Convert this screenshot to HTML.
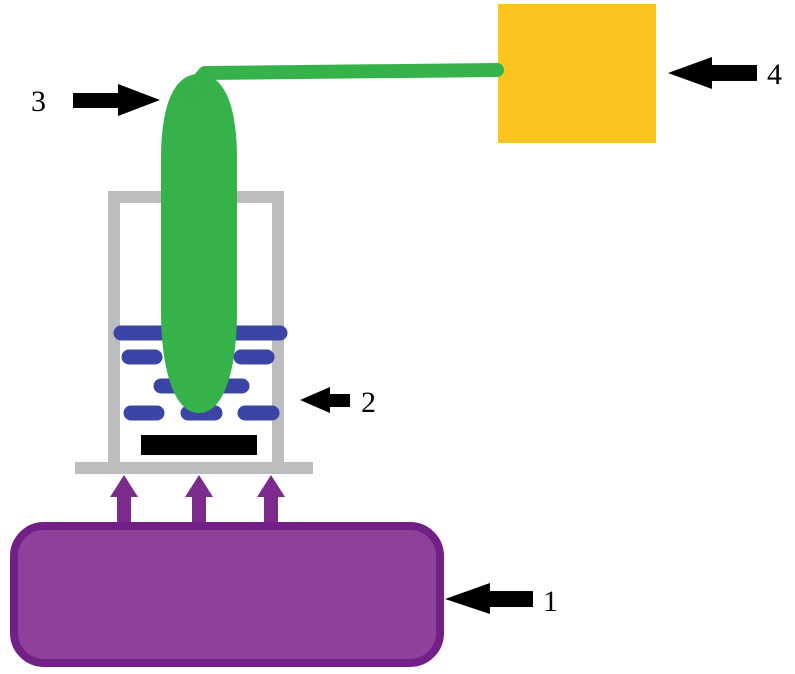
<!DOCTYPE html>
<html><head><meta charset="utf-8"><style>html,body{margin:0;padding:0;background:#fff}svg{display:block}</style></head>
<body>
<svg width="795" height="674" viewBox="0 0 795 674" xmlns="http://www.w3.org/2000/svg">
<rect x="498" y="4" width="158" height="139" fill="#fcc41f"/>
<g fill="#bbbdbf">
<rect x="108" y="191" width="176" height="12"/>
<rect x="108" y="191" width="12" height="275"/>
<rect x="272" y="191" width="12" height="275"/>
<rect x="75" y="462" width="238" height="12"/>
</g>
<g stroke="#3a45a6" stroke-width="15" stroke-linecap="round">
<line x1="121" y1="333" x2="280" y2="333"/>
<line x1="129" y1="357" x2="155" y2="357"/>
<line x1="241" y1="357" x2="267" y2="357"/>
<line x1="161" y1="386" x2="242" y2="386"/>
<line x1="131" y1="413" x2="157" y2="413"/>
<line x1="188" y1="413" x2="215" y2="413"/>
<line x1="245" y1="413" x2="272" y2="413"/>
</g>
<rect x="141" y="435" width="116" height="20" fill="#000"/>
<path d="M199 74 C222 74 237 100 237 160 L237 310 C237 370 224 413 199 413 C174 413 161 370 161 310 L161 160 C161 100 176 74 199 74 Z" fill="#35b24a"/>
<path d="M190 90 L205 73 L497 70" stroke="#35b24a" stroke-width="14" fill="none" stroke-linecap="round" stroke-linejoin="round"/>
<g fill="#7d2a8e">
<polygon points="124,475 110,497 117,497 117,525 131,525 131,497 138,497"/>
<polygon points="199,475 185,497 192,497 192,525 206,525 206,497 213,497"/>
<polygon points="271,475 257,497 264,497 264,525 278,525 278,497 285,497"/>
</g>
<rect x="14" y="526" width="426" height="137" rx="30" fill="#8e4199" stroke="#731f88" stroke-width="8"/>
<g fill="#000">
<polygon points="160,100 118,84 118,93 73,93 73,108 118,108 118,116"/>
<polygon points="300,400 330,387 330,394 350,394 350,407 330,407 330,413"/>
<polygon points="445,599 490,583 490,591 533,591 533,607 490,607 490,614"/>
<polygon points="668,73 712,57 712,65 757,65 757,81 712,81 712,89"/>
</g>
<g font-family="Liberation Serif, serif" font-size="30" fill="#000">
<text x="31" y="111">3</text>
<text x="361" y="412">2</text>
<text x="543" y="611">1</text>
<text x="767" y="84">4</text>
</g>
</svg>
</body></html>
